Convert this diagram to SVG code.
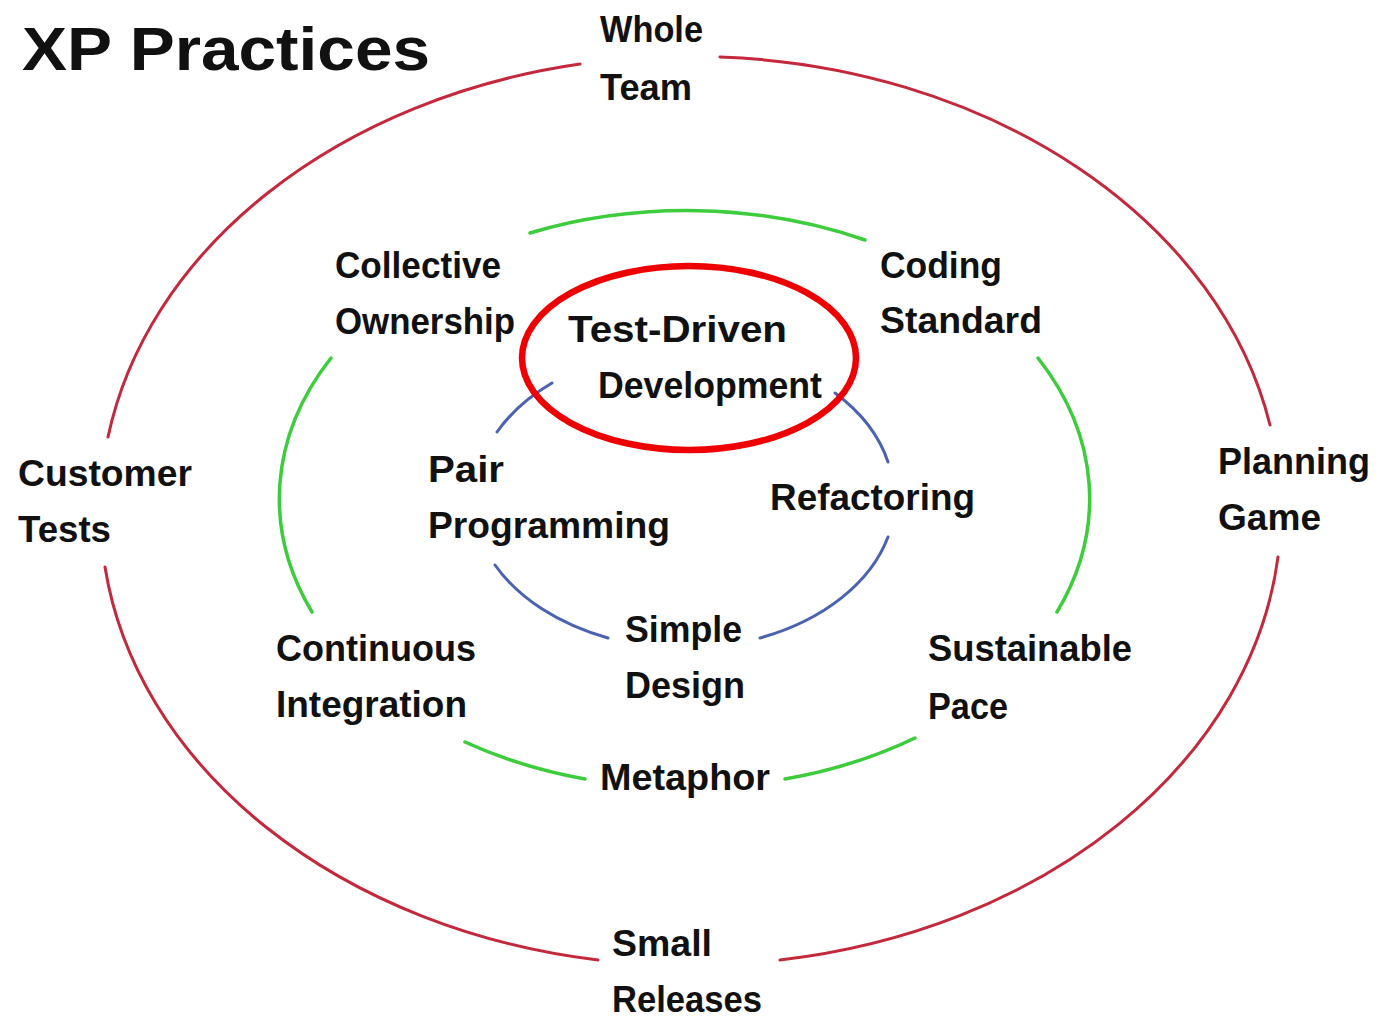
<svg xmlns="http://www.w3.org/2000/svg" width="1379" height="1019" viewBox="0 0 1379 1019">
<style>
  text { font-family: "Liberation Sans", Arial, sans-serif; font-weight: bold; fill: #111; font-size: 36px; }
  .title { font-size: 62px; }
  .outer { fill: none; stroke: #c4283c; stroke-width: 3; stroke-linecap: round; }
  .mid { fill: none; stroke: #3ccc3c; stroke-width: 3.5; stroke-linecap: round; }
  .inner { fill: none; stroke: #4a62b0; stroke-width: 3; stroke-linecap: round; }
  .focus { fill: none; stroke: #ee0000; stroke-width: 6.5; }
</style>
<rect width="1379" height="1019" fill="#ffffff"/>
<g id="connectors">
  <path class="outer" d="M 580 64 A 588 454 0 0 0 108 437"/>
  <path class="outer" d="M 720 57 A 588 454 0 0 1 1270 425"/>
  <path class="outer" d="M 1278 557 A 588 454 0 0 1 780 960"/>
  <path class="outer" d="M 598 960 A 588 454 0 0 1 105 567"/>
  <path class="mid" d="M 530 233 A 405 288 0 0 1 865 240"/>
  <path class="mid" d="M 331 358 A 405 288 0 0 0 312 612"/>
  <path class="mid" d="M 1038 358 A 405 288 0 0 1 1057 612"/>
  <path class="mid" d="M 465 742 A 405 288 0 0 0 585 779"/>
  <path class="mid" d="M 785 779 A 405 288 0 0 0 915 738"/>
  <path class="inner" d="M 552 383 A 215 150 0 0 0 497 432"/>
  <path class="inner" d="M 835 393 A 215 150 0 0 1 888 462"/>
  <path class="inner" d="M 495 565 A 215 150 0 0 0 608 638"/>
  <path class="inner" d="M 760 638 A 215 150 0 0 0 888 537"/>
</g>
<g id="title"><text class="title" x="22" y="70" textLength="408" lengthAdjust="spacingAndGlyphs">XP Practices</text></g>
<g id="whole-team">
  <text x="600" y="42" textLength="103" lengthAdjust="spacingAndGlyphs">Whole</text>
  <text x="600" y="100" textLength="92" lengthAdjust="spacingAndGlyphs">Team</text>
</g>
<g id="customer-tests">
  <text x="18" y="486" textLength="174" lengthAdjust="spacingAndGlyphs">Customer</text>
  <text x="18" y="542" textLength="93" lengthAdjust="spacingAndGlyphs">Tests</text>
</g>
<g id="planning-game">
  <text x="1218" y="474" textLength="152" lengthAdjust="spacingAndGlyphs">Planning</text>
  <text x="1218" y="530" textLength="103" lengthAdjust="spacingAndGlyphs">Game</text>
</g>
<g id="small-releases">
  <text x="612" y="956" textLength="100" lengthAdjust="spacingAndGlyphs">Small</text>
  <text x="612" y="1012" textLength="150" lengthAdjust="spacingAndGlyphs">Releases</text>
</g>
<g id="collective-ownership">
  <text x="335" y="278" textLength="166" lengthAdjust="spacingAndGlyphs">Collective</text>
  <text x="335" y="334" textLength="180" lengthAdjust="spacingAndGlyphs">Ownership</text>
</g>
<g id="coding-standard">
  <text x="880" y="278" textLength="122" lengthAdjust="spacingAndGlyphs">Coding</text>
  <text x="880" y="333" textLength="162" lengthAdjust="spacingAndGlyphs">Standard</text>
</g>
<g id="test-driven-development">
  <ellipse class="focus" cx="689" cy="358" rx="167" ry="92"/>
  <text x="568" y="342" textLength="219" lengthAdjust="spacingAndGlyphs">Test-Driven</text>
  <text x="598" y="398" textLength="224" lengthAdjust="spacingAndGlyphs">Development</text>
</g>
<g id="pair-programming">
  <text x="428" y="482" textLength="76" lengthAdjust="spacingAndGlyphs">Pair</text>
  <text x="428" y="538" textLength="242" lengthAdjust="spacingAndGlyphs">Programming</text>
</g>
<g id="refactoring">
  <text x="770" y="510" textLength="205" lengthAdjust="spacingAndGlyphs">Refactoring</text>
</g>
<g id="simple-design">
  <text x="625" y="642" textLength="117" lengthAdjust="spacingAndGlyphs">Simple</text>
  <text x="625" y="698" textLength="120" lengthAdjust="spacingAndGlyphs">Design</text>
</g>
<g id="continuous-integration">
  <text x="276" y="661" textLength="200" lengthAdjust="spacingAndGlyphs">Continuous</text>
  <text x="276" y="717" textLength="191" lengthAdjust="spacingAndGlyphs">Integration</text>
</g>
<g id="sustainable-pace">
  <text x="928" y="661" textLength="204" lengthAdjust="spacingAndGlyphs">Sustainable</text>
  <text x="928" y="719" textLength="80" lengthAdjust="spacingAndGlyphs">Pace</text>
</g>
<g id="metaphor">
  <text x="600" y="790" textLength="170" lengthAdjust="spacingAndGlyphs">Metaphor</text>
</g>
</svg>
